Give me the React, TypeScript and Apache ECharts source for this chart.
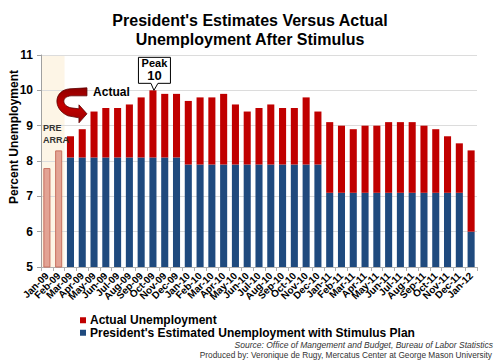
import React, { useEffect, useRef } from "react";
import * as echarts from "echarts";

const months = [
  "Jan-09", "Feb-09", "Mar-09", "Apr-09", "May-09", "Jun-09", "Jul-09", "Aug-09", "Sep-09", "Oct-09", "Nov-09", "Dec-09",
  "Jan-10", "Feb-10", "Mar-10", "Apr-10", "May-10", "Jun-10", "Jul-10", "Aug-10", "Sep-10", "Oct-10", "Nov-10", "Dec-10",
  "Jan-11", "Feb-11", "Mar-11", "Apr-11", "May-11", "Jun-11", "Jul-11", "Aug-11", "Sep-11", "Oct-11", "Nov-11", "Dec-11",
  "Jan-12",
];

// Pre-ARRA actual unemployment (Jan-09, Feb-09)
const preArra = [7.8, 8.3];

// Actual unemployment rate
const actual = [
  null, null, 8.7, 8.9, 9.4, 9.5, 9.5, 9.6, 9.8, 10.0, 9.9, 9.9,
  9.7, 9.8, 9.8, 9.9, 9.6, 9.4, 9.5, 9.6, 9.5, 9.5, 9.8, 9.4,
  9.1, 9.0, 8.9, 9.0, 9.0, 9.1, 9.1, 9.1, 9.0, 8.9, 8.7, 8.5,
  8.3,
];

// President's estimated unemployment with stimulus plan
const estimate = [
  null, null, 8.1, 8.1, 8.1, 8.1, 8.1, 8.1, 8.1, 8.1, 8.1, 8.1,
  7.9, 7.9, 7.9, 7.9, 7.9, 7.9, 7.9, 7.9, 7.9, 7.9, 7.9, 7.9,
  7.1, 7.1, 7.1, 7.1, 7.1, 7.1, 7.1, 7.1, 7.1, 7.1, 7.1, 7.1,
  6.0,
];

const yTicks = { min: 5, max: 11, interval: 1 };

const FONT = "'Liberation Sans', Arial, sans-serif";
const ACTUAL_NAME = "Actual Unemployment";
const EST_NAME = "President's Estimated Unemployment with Stimulus Plan";

const arrowPath =
  "M33 1 L16 2 C0 3 -2 22 14 29 L25 31 L25 36 L33 27 L25 18 L25 22 L17 21 C8 19 7 10 17 9 L33 9 Z";

export default function App() {
  const ref = useRef<HTMLDivElement>(null);

  useEffect(() => {
    if (!ref.current) return;
    try {
      echarts.graphic.registerShape("curveArrow", echarts.graphic.extendPath(arrowPath, {}) as any);
    } catch (e) {}
    const chart = echarts.init(ref.current, null, { renderer: "svg" });

    const preData = months.map((_, i) => (i < preArra.length ? preArra[i] : "-"));
    const estData = estimate.map((v) => (v == null ? "-" : v));
    const diffData = actual.map((v, i) =>
      v == null || estimate[i] == null ? "-" : +((v as number) - (estimate[i] as number)).toFixed(2)
    );

    chart.setOption({
      animation: false,
      backgroundColor: "#ffffff",
      title: {
        text: "President's Estimates Versus Actual\nUnemployment After Stimulus",
        left: "center",
        top: 6,
        textStyle: { fontFamily: FONT, fontWeight: "bold", fontSize: 16, lineHeight: 19, color: "#000" },
      },
      legend: {
        data: [ACTUAL_NAME, EST_NAME],
        orient: "vertical",
        left: 80,
        top: 314,
        padding: 0,
        itemGap: 0,
        itemWidth: 6,
        itemHeight: 6,
        icon: "rect",
        selectedMode: false,
        textStyle: { fontFamily: FONT, fontWeight: "bold", fontSize: 12, color: "#000", lineHeight: 12.5, padding: [0, 0, 0, -1] },
      },
      grid: { left: 41, right: 23, top: 55, bottom: 96, outerBoundsMode: "none", containLabel: false },
      xAxis: {
        type: "category",
        data: months,
        axisLine: { lineStyle: { color: "#b0b0b0" } },
        axisTick: { show: true, length: 4, lineStyle: { color: "#b0b0b0" } },
        axisLabel: {
          interval: 0,
          rotate: 45,
          margin: 7,
          fontFamily: FONT,
          fontWeight: "bold",
          fontSize: 10,
          color: "#000",
        },
      },
      yAxis: {
        type: "value",
        min: yTicks.min,
        max: yTicks.max,
        interval: yTicks.interval,
        axisLine: { show: true, lineStyle: { color: "#a0a0a0" } },
        axisTick: { show: true, length: 4, lineStyle: { color: "#a0a0a0" } },
        axisLabel: { fontFamily: FONT, fontWeight: "bold", fontSize: 12, color: "#000", margin: 8 },
        splitLine: { lineStyle: { color: "#dcdcdc" } },
      },
      series: [
        {
          name: "Pre ARRA",
          type: "bar",
          stack: "u",
          data: preData,
          barCategoryGap: "40%",
          itemStyle: { color: "#e3a394", borderColor: "#c7705f", borderWidth: 1 },
        },
        {
          name: EST_NAME,
          type: "bar",
          stack: "u",
          data: estData,
          barCategoryGap: "40%",
          itemStyle: { color: "#1f4a7e" },
        },
        {
          name: ACTUAL_NAME,
          type: "bar",
          stack: "u",
          data: diffData,
          barCategoryGap: "40%",
          itemStyle: { color: "#c00000" },
        },
      ],
    });

    const p = (cat: string, v: number) =>
      chart.convertToPixel({ xAxisIndex: 0, yAxisIndex: 0 }, [cat, v]) as number[];
    const j = p("Jan-09", 11);
    const f = p("Feb-09", 5);
    const bw = f[0] - j[0];
    const peak = p("Oct-09", 10);
    const pre = p("Jan-09", 9);
    const arr = p("Mar-09", 10);
    const mid = p("Jan-09", 8);

    chart.setOption({
      graphic: [
        {
          type: "rect",
          z: -1,
          silent: true,
          shape: { x: j[0] - bw / 2, y: j[1], width: bw * 2, height: f[1] - j[1] },
          style: { fill: "#fdf5e6" },
        },
        {
          type: "text",
          x: 14,
          y: mid[1] - 24,
          rotation: Math.PI / 2,
          style: {
            text: "Percent Unemployment",
            fontFamily: FONT,
            fontWeight: "bold",
            fontSize: 12,
            fill: "#000",
            align: "center",
            verticalAlign: "middle",
          },
        },
        {
          type: "polygon",
          z: 10,
          shape: {
            points: [
              [peak[0] - 14.5, peak[1] - 33],
              [peak[0] + 17.5, peak[1] - 33],
              [peak[0] + 17.5, peak[1] - 7],
              [peak[0] + 5, peak[1] - 7],
              [peak[0] + 1, peak[1]],
              [peak[0] - 2, peak[1] - 7],
              [peak[0] - 14.5, peak[1] - 7],
            ],
          },
          style: { fill: "#ffffff", stroke: "#000", lineWidth: 1 },
        },
        {
          type: "text",
          z: 11,
          x: peak[0] + 1.5,
          y: peak[1] - 27,
          style: { text: "Peak", fontFamily: FONT, fontWeight: "bold", fontSize: 11, fill: "#000", align: "center", verticalAlign: "middle" },
        },
        {
          type: "text",
          z: 11,
          x: peak[0] + 1.5,
          y: peak[1] - 15,
          style: { text: "10", fontFamily: FONT, fontWeight: "bold", fontSize: 13, fill: "#000", align: "center", verticalAlign: "middle" },
        },
        {
          type: "text",
          z: 11,
          x: pre[0] - 4,
          y: pre[1] - 3.5,
          style: { text: "PRE\nARRA", fontFamily: FONT, fontWeight: "bold", fontSize: 9, lineHeight: 12, fill: "#333", align: "left", verticalAlign: "top" },
        },
        {
          type: "curveArrow",
          z: 11,
          x: arr[0] - 16.5,
          y: arr[1] - 3.5,
          style: {
            fill: new echarts.graphic.LinearGradient(0, 0, 0, 1, [
              { offset: 0, color: "#8e0000" },
              { offset: 0.5, color: "#c40000" },
              { offset: 1, color: "#9a0000" },
            ]),
            stroke: "#5a0000",
            lineWidth: 0.8,
          },
        },
        {
          type: "text",
          z: 11,
          x: arr[0] + 22.6,
          y: arr[1] + 1.5,
          style: { text: "Actual", fontFamily: FONT, fontWeight: "bold", fontSize: 12, fill: "#000", align: "left", verticalAlign: "middle" },
        },
        {
          type: "text",
          right: 7,
          top: 340,
          style: {
            text: "Source: Office of Mangement and Budget, Bureau of Labor Statistics",
            fontFamily: FONT,
            fontStyle: "italic",
            fontSize: 8.5,
            fill: "#333",
          },
        },
        {
          type: "text",
          right: 8,
          top: 351,
          style: {
            text: "Produced by: Veronique de Rugy, Mercatus Center at George Mason University",
            fontFamily: FONT,
            fontSize: 8.3,
            fill: "#333",
          },
        },
      ],
    });

    return () => chart.dispose();
  }, []);

  return <div ref={ref} style={{ width: 500, height: 363, position: "absolute", left: 0, top: 0 }} />;
}
